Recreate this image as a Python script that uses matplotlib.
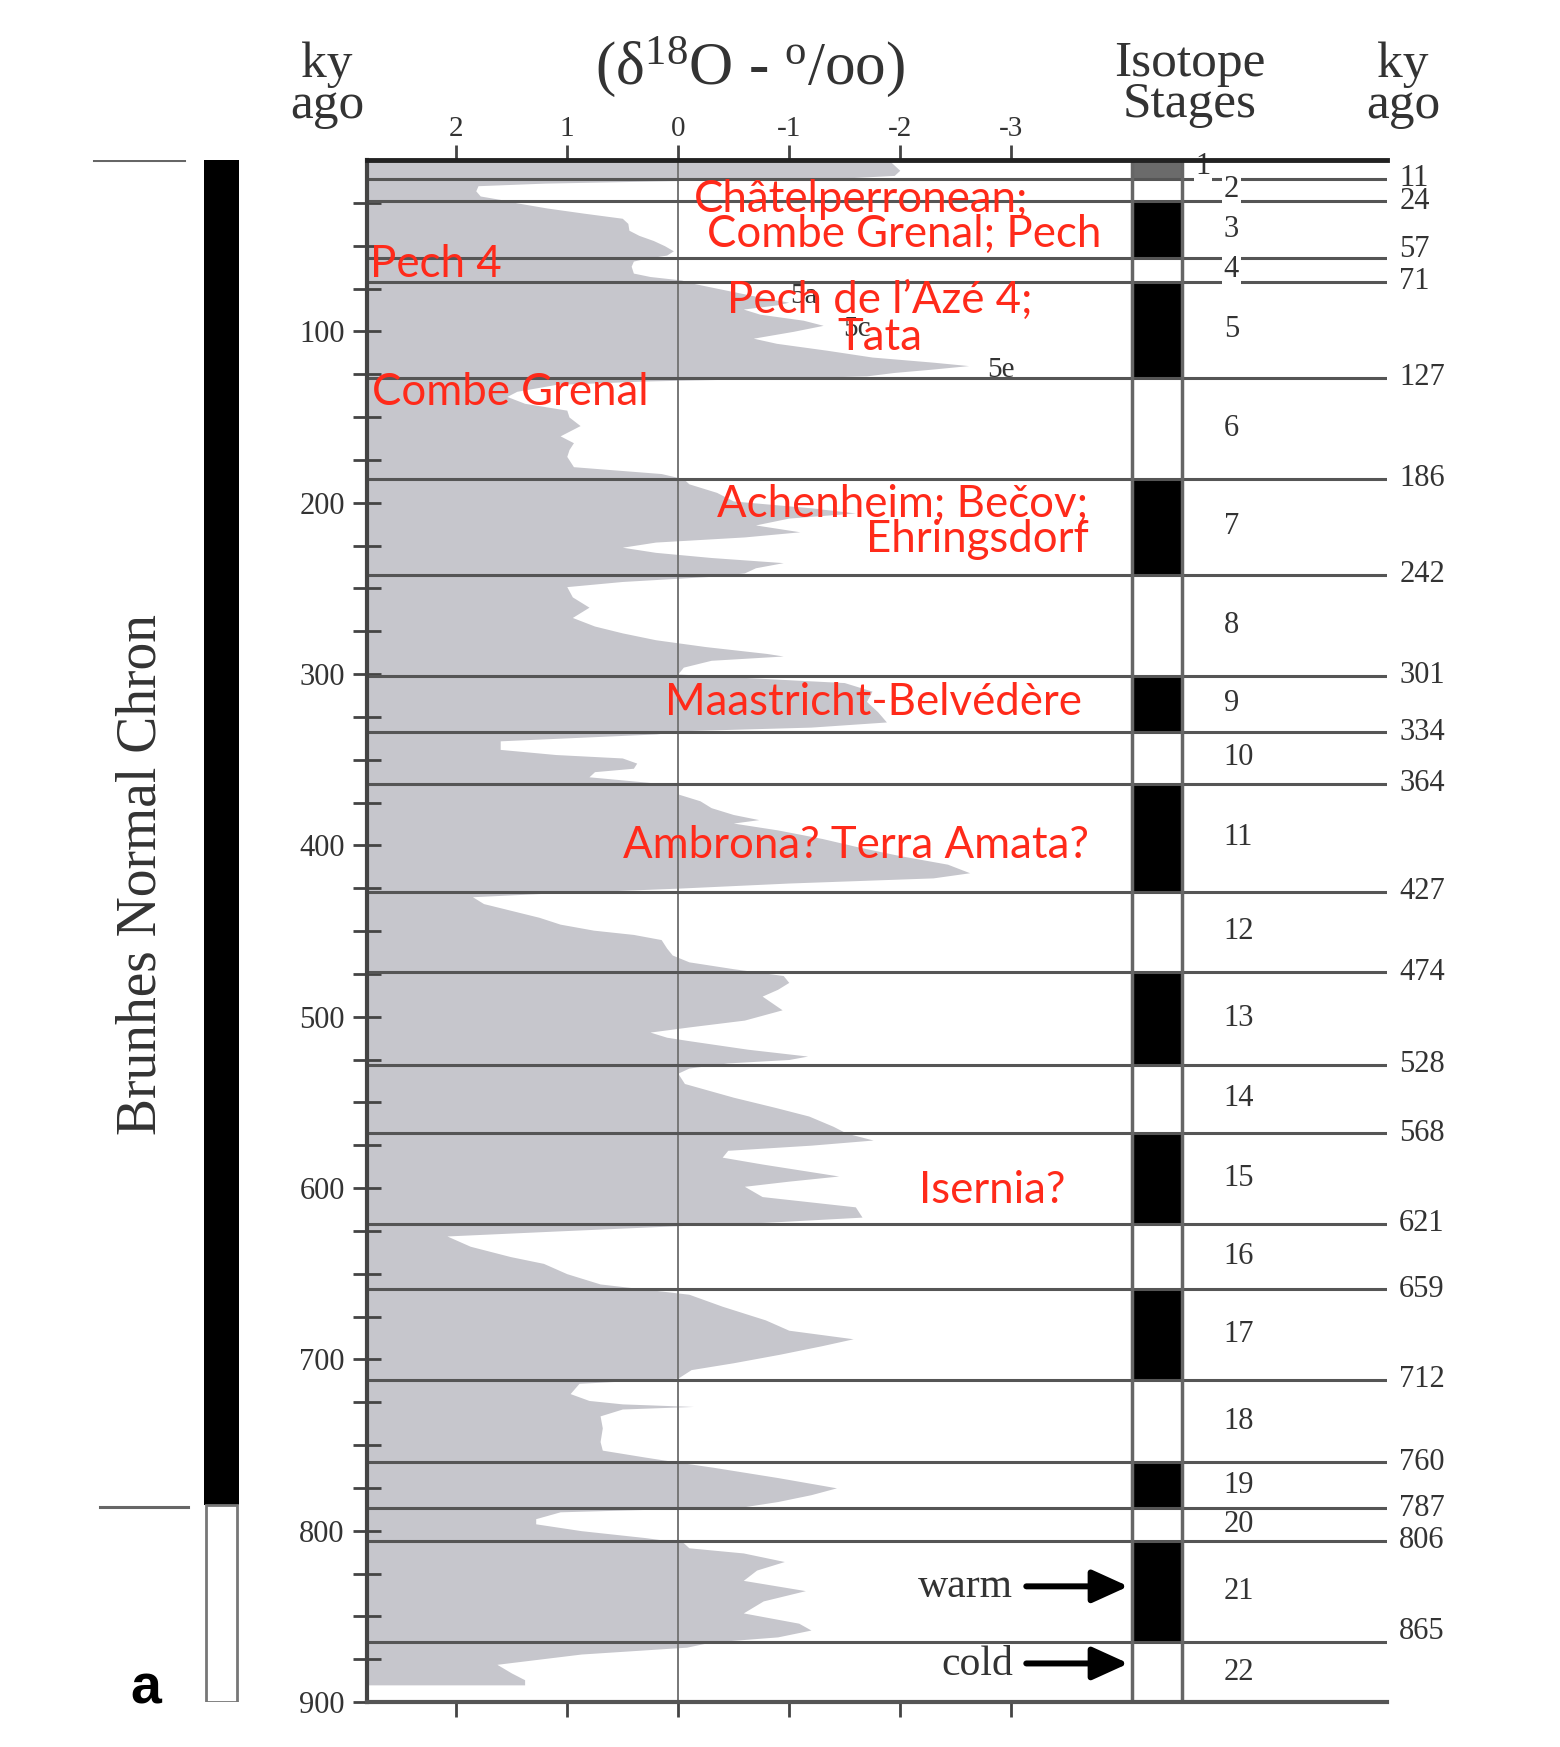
import matplotlib
matplotlib.use('Agg')
import matplotlib.pyplot as plt
from matplotlib.patches import Rectangle

plt.rcParams['font.family'] = ['Liberation Serif', 'DejaVu Serif']
plt.rcParams['mathtext.fontset'] = 'custom'
plt.rcParams['mathtext.rm'] = 'Liberation Serif'
plt.rcParams['mathtext.it'] = 'Liberation Serif:italic'

# delta 18O record (ky ago, per mil)
ages = [0, 3, 6, 9, 10.5, 12, 13.5, 15, 18, 21, 23,
        25, 28, 31, 34, 37, 41, 44, 47, 50, 53, 55.5,
        57.5, 59, 62, 66, 68, 70,
        72, 76, 80, 83, 84.5, 87, 90, 93.5, 96.5, 100, 104, 107, 111, 115, 118, 120, 122, 124, 126, 127.5,
        129, 131, 135, 138, 142, 146, 150, 155, 161, 165, 169, 173, 179, 183,
        186, 189, 194, 199, 203, 206, 209, 213, 217, 220, 223, 226, 229, 232, 235, 238, 241,
        243, 246, 249, 255, 261, 267, 272, 276, 280, 284, 288, 289.5, 292, 296, 300,
        302, 305, 310, 316, 322, 328, 331, 333,
        335, 337, 339, 344, 347, 349, 352, 355, 357, 360, 363,
        365, 370, 374, 378, 382, 385, 387, 391, 396, 401, 406, 411, 416, 419, 422, 425,
        428, 430, 434, 438, 442, 446, 449.5, 452, 455, 460, 464, 468, 472,
        476, 480, 484, 488, 492, 496, 502, 506, 509, 512, 514, 519, 523, 525, 527,
        530, 533, 539, 547, 553, 558, 564,
        568, 572, 575, 578, 582, 586, 593, 596, 599, 605, 611, 617, 620,
        622, 625, 628, 634, 640, 644, 650, 656, 659,
        662, 669, 677, 683, 688, 692, 697, 702, 706, 711,
        714, 720, 724, 726, 727.5, 729, 733, 740, 748, 753, 757, 760,
        763, 769, 775, 779, 783, 786,
        789, 793, 796, 800, 804,
        807, 810, 813, 818, 823, 829, 835, 841, 848, 854, 858, 862, 865,
        868, 872, 878, 883, 887, 890]
d18o = [-1.9, -1.95, -2.0, -1.95, -1.5, 0.0, 1.2, 1.8, 1.82, 1.78, 1.6,
        1.45, 1.18, 0.85, 0.5, 0.45, 0.44, 0.35, 0.22, 0.12, 0.04, 0.1,
        0.3, 0.4, 0.42, 0.4, 0.25, -0.03,
        -0.14, -0.44, -0.74, -1.0, -0.9, -0.59, -0.74, -1.13, -1.31, -1.04, -0.68, -0.89, -1.34, -1.75, -2.3, -2.62, -2.3, -1.95, -1.7, -0.8,
        0.3, 1.1, 1.45, 1.54, 1.38, 1.0, 0.98, 0.88, 1.06, 0.94, 0.98, 1.0, 0.94, 0.15,
        -0.05, -0.1, -0.35, -0.5, -1.2, -1.6, -1.0, -0.7, -1.1, -0.6, 0.2, 0.5, 0.2, -0.3, -0.95, -0.7, -0.6,
        -0.3, 0.5, 1.0, 0.95, 0.8, 0.95, 0.75, 0.5, 0.2, -0.25, -0.8, -0.95, -0.3, -0.05, 0.0,
        -0.6, -1.5, -1.75, -1.7, -1.8, -1.88, -1.2, -0.1,
        0.2, 0.9, 1.6, 1.6, 1.1, 0.5, 0.37, 0.4, 0.75, 0.8, 0.3,
        0.0, 0.0, -0.2, -0.3, -0.5, -0.73, -0.5, -0.9, -1.3, -1.63, -2.0, -2.43, -2.63, -2.3, -1.0, 0.0,
        1.2, 1.85, 1.75, 1.5, 1.25, 1.06, 0.76, 0.4, 0.15, 0.1, 0.05, -0.1, -0.5,
        -0.95, -1.0, -0.9, -0.76, -0.85, -0.94, -0.6, -0.1, 0.25, 0.1, -0.1, -0.63, -1.17, -1.0, -0.45,
        -0.1, 0.0, -0.06, -0.5, -0.88, -1.18, -1.4,
        -1.52, -1.76, -1.2, -0.45, -0.4, -0.76, -1.45, -1.0, -0.6, -0.76, -1.6, -1.66, -0.8,
        0.0, 1.06, 2.08, 1.87, 1.51, 1.21, 1.0, 0.7, 0.3,
        -0.1, -0.4, -0.79, -1.0, -1.58, -1.3, -0.92, -0.5, -0.12, 0.0,
        0.89, 0.97, 0.8, 0.5, -0.14, 0.5, 0.7, 0.68, 0.7, 0.68, 0.3, 0.0,
        -0.32, -0.9, -1.43, -1.2, -0.9, -0.6,
        1.06, 1.28, 1.28, 0.87, 0.3,
        -0.05, -0.1, -0.59, -0.96, -0.71, -0.59, -1.15, -0.77, -0.59, -1.09, -1.2, -0.9, -0.3,
        -0.08, 0.87, 1.63, 1.5, 1.38, 1.38]

stage_bounds = [0, 11, 24, 57, 71, 127, 186, 242, 301, 334, 364, 427, 474,
                528, 568, 621, 659, 712, 760, 787, 806, 865, 900]
stage_names = [str(i) for i in range(1, 23)]
brunhes_base = 785

x_ticks = [2, 1, 0, -1, -2, -3]
x_tick_labels = ['2', '1', '0', '-1', '-2', '-3']

sites = ['Châtelperronean;', 'Combe Grenal; Pech', 'Pech 4', 'Pech de l’Azé 4;', 'Tata',
         'Combe Grenal', 'Achenheim; Bečov;', 'Ehringsdorf', 'Maastricht-Belvédère',
         'Ambrona? Terra Amata?', 'Isernia?']

W, H = 1560, 1747
TXT = '#333333'
RED = '#ff2a1a'
GREY = '#c6c6cc'


def fpos(x, y):
    return x / W, 1 - y / H


fig = plt.figure(figsize=(W / 100, H / 100), dpi=100)
ax = fig.add_axes([367 / W, 1 - 1702 / H, 1020 / W, 1542 / H])
xl, xr = 2.80, -6.39
ax.set_xlim(xl, xr)
ax.set_ylim(900, 0)

ax.fill_betweenx(ages, xl, d18o, color=GREY, lw=0, zorder=1)
ax.axvline(0, color='#777777', lw=1.4, zorder=2)

# isotope stage column
col_l, col_r = -4.09, -4.54
for i in range(len(stage_names)):
    top, bot = stage_bounds[i], stage_bounds[i + 1]
    fc = '#6b6b6b' if i == 0 else ('black' if i % 2 == 0 else 'white')
    ax.add_patch(Rectangle((col_r, top), col_l - col_r, bot - top,
                           facecolor=fc, edgecolor='none', zorder=3))
ax.hlines(stage_bounds[1:-1], xl, xr, color='#555555', lw=2.2, zorder=3.5)
ax.vlines([col_l, col_r], 0, 900, color='#666666', lw=2.5, zorder=4)

for i, name in enumerate(stage_names):
    mid = (stage_bounds[i] + stage_bounds[i + 1]) / 2
    box = dict(facecolor='white', edgecolor='none', pad=1) if i in (0, 1, 3) else None
    if i == 0:
        ax.text(-4.73, mid - 1.5, name, ha='center', va='center', fontsize=22,
                color=TXT, bbox=box, zorder=5)
    else:
        ax.text(-4.92, mid, name, ha='left', va='center', fontsize=22,
                color=TXT, bbox=box, zorder=5)

nudge = {57: -5, 865: -6}
for b in stage_bounds[1:-1]:
    ax.text(-6.5, b + nudge.get(b, 0), str(b), ha='left', va='center',
            fontsize=22, color=TXT, clip_on=False)

# axes styling
ax.spines['right'].set_visible(False)
ax.spines['top'].set_linewidth(3.5)
ax.spines['top'].set_color('#222222')
ax.spines['left'].set_linewidth(3)
ax.spines['left'].set_color('#444444')
ax.spines['bottom'].set_linewidth(3)
ax.spines['bottom'].set_color('#555555')
for s in ax.spines.values():
    s.set_zorder(6)

ax.set_yticks(range(100, 1000, 100))
ax.set_yticks([m for m in range(25, 900, 25) if m % 100], minor=True)
ax.tick_params(axis='y', which='both', direction='inout', length=20, width=2,
               color='#444444', labelsize=22, labelcolor=TXT, pad=6)
ax.set_xticks(x_ticks)
ax.set_xticklabels(x_tick_labels)
ax.tick_params(axis='x', top=True, bottom=True, labeltop=True, labelbottom=False,
               direction='out', length=11, width=2, color='#444444',
               labelsize=21, labelcolor=TXT, pad=2)

# archaeological sites (red overlay)
site_kw = dict(color=RED, fontsize=31.5, family=['Lato', 'DejaVu Sans'], zorder=8, va='baseline')
ax.text(-0.144, 30.4, sites[0], ha='left', **site_kw)
ax.text(-0.26, 50.8, sites[1], ha='left', **site_kw)
ax.text(2.775, 68.3, sites[2], ha='left', **site_kw)
ax.text(-1.82, 89.3, sites[3], ha='center', **site_kw)
ax.text(-1.82, 111, sites[4], ha='center', **site_kw)
ax.text(2.757, 143, sites[5], ha='left', **site_kw)
ax.text(-3.70, 208.4, sites[6], ha='right', **site_kw)
ax.text(-3.70, 229, sites[7], ha='right', **site_kw)
ax.text(-3.64, 324, sites[8], ha='right', **site_kw)
ax.text(-3.70, 407.5, sites[9], ha='right', **site_kw)
ax.text(-3.49, 609, sites[10], ha='right', **site_kw)

# substage labels
for lab, xv, yv in [('5a', -1.01, 83.5), ('5c', -1.49, 103), ('5e', -2.79, 126.7)]:
    ax.text(xv, yv, lab, ha='left', va='baseline', fontsize=21, color=TXT, zorder=7)

# warm / cold arrows
for lab, ya, yt in [('warm', 832.5, 839), ('cold', 877.5, 884.5)]:
    ax.text(-3.02, yt, lab, ha='right', va='baseline', fontsize=30, color=TXT, zorder=7)
    ax.annotate('', xy=(-4.06, ya), xytext=(-3.14, ya), zorder=7,
                arrowprops=dict(arrowstyle='-|>,head_length=0.55,head_width=0.25',
                                lw=4.3, color='black', mutation_scale=40,
                                shrinkA=0, shrinkB=0))

# Brunhes chron bar on the left
axl = fig.add_axes([0, 1 - 1702 / H, 367 / W, 1542 / H])
axl.set_xlim(0, 367)
axl.set_ylim(900, 0)
axl.axis('off')
axl.add_patch(Rectangle((204, 0), 35, brunhes_base, facecolor='black', edgecolor='none'))
axl.add_patch(Rectangle((206, brunhes_base), 31, 900 - brunhes_base,
                        facecolor='white', edgecolor='#777777', lw=2))
axl.plot([94, 184], [0, 0], color='#666666', lw=2.2)
axl.plot([100, 188], [brunhes_base + 1, brunhes_base + 1], color='#666666', lw=2.2)
axl.text(142, 417, 'Brunhes Normal Chron', rotation=90, ha='center', va='center',
         fontsize=40, color=TXT)
axl.text(146, 901, 'a', ha='center', va='baseline', fontsize=40, fontweight='bold',
         family=['Liberation Sans', 'DejaVu Sans'], color='black', clip_on=False)

# column headers
hdr = dict(ha='center', va='center', fontsize=37, color=TXT, linespacing=0.85)
fig.text(*fpos(327, 85), 'ky\nago', **hdr)
fig.text(*fpos(750, 67), '(δ$^{18}$O - $^{\\mathrm{o}}$/oo)',
         ha='center', va='center', fontsize=44, color=TXT)
fig.text(*fpos(1190, 84), 'Isotope\nStages', **hdr)
fig.text(*fpos(1403, 85), 'ky\nago', **hdr)

fig.savefig('out.png', dpi=100)
